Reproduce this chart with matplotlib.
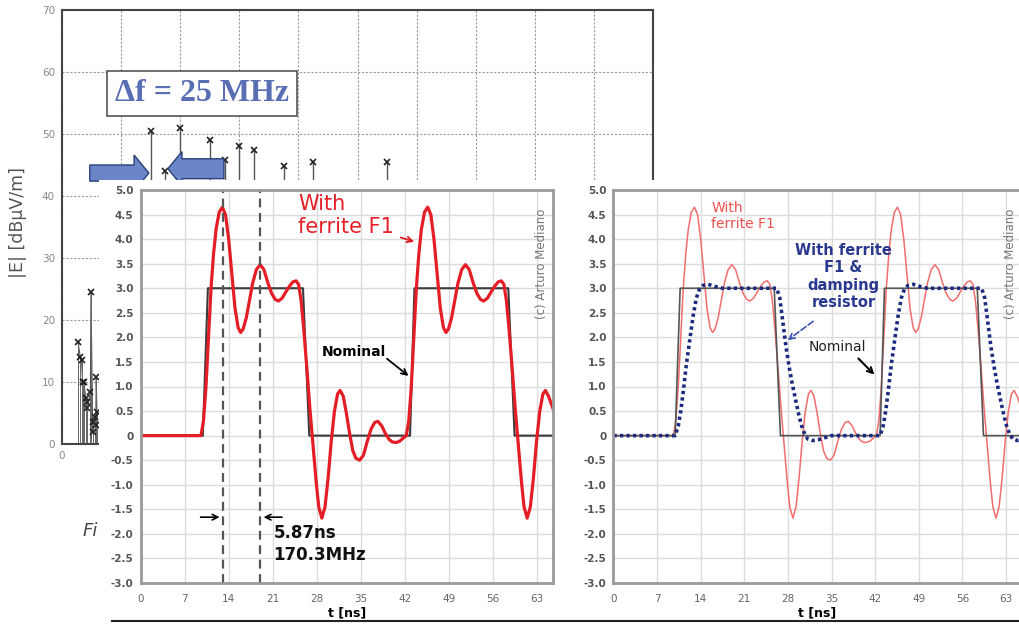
import matplotlib.pyplot as plt
from matplotlib.patches import Rectangle, FancyArrow
from matplotlib.lines import Line2D

# ---- background spectrum (partly hidden) ----
spec_f_low = [27, 31, 33, 35, 37, 40, 42, 43, 48, 49, 52, 53, 55, 57, 58, 59]
spec_v_low = [16.5, 14, 13.5, 10, 10, 7.4, 6.8, 5.8, 8.4, 24.5, 2, 3.5, 4.4, 3, 10.8, 5.2]
spec_f_high = [150, 175, 200, 250, 275, 300, 325, 375, 425, 550, 600]
spec_v_high = [50.5, 44, 51, 49, 45.8, 48, 47.4, 44.8, 45.5, 45.5, 42]
spec_xticks = [0, 100, 200, 300, 400, 500, 600, 700, 800, 900, 1000]
spec_yticks = [0, 10, 20, 30, 40, 50, 60, 70]

# ---- time domain signals ----
nom_t = [0, 9.9, 10.7, 25.8, 26.8, 42.8, 43.5, 58.4, 59.4, 65.5]
nom_v = [0, 0, 3, 3, 0, 0, 3, 3, 0, 0]

red_t = [0, 9.6, 10.0, 10.4, 10.8, 11.2, 11.6, 12.0, 12.5, 13.0, 13.5, 14.0, 14.5, 15.0, 15.5,
         15.9, 16.3, 16.8, 17.3, 17.8, 18.4, 19.0, 19.6, 20.2, 20.8, 21.4, 21.9, 22.5, 23.1, 23.7,
         24.2, 24.7, 25.1, 25.5, 25.9, 26.4, 26.9, 27.4, 27.9, 28.3, 28.8, 29.3, 29.8, 30.3, 30.8,
         31.3, 31.7, 32.2, 32.7, 33.2, 33.7, 34.2, 34.8, 35.4, 36.0, 36.6, 37.2, 37.7, 38.3, 38.9,
         39.5, 40.0, 40.6, 41.2, 41.8, 42.2, 42.6, 43.0, 43.4, 43.8, 44.2, 44.6, 45.1, 45.6, 46.1,
         46.6, 47.1, 47.6, 48.1, 48.5, 48.9, 49.4, 49.9, 50.4, 51.0, 51.6, 52.2, 52.8, 53.4, 54.0,
         54.5, 55.1, 55.7, 56.3, 56.8, 57.3, 57.7, 58.1, 58.5, 59.0, 59.5, 60.0, 60.5, 60.9, 61.4,
         61.9, 62.4, 62.9, 63.4, 63.9, 64.3, 64.8, 65.5]
red_v = [0, 0, 0.3, 1.0, 2.0, 3.0, 3.7, 4.2, 4.55, 4.65, 4.5, 4.0, 3.3, 2.6, 2.2,
         2.1, 2.17, 2.4, 2.75, 3.1, 3.38, 3.48, 3.38, 3.12, 2.9, 2.77, 2.74, 2.8, 2.93, 3.05,
         3.13, 3.15, 3.08, 2.75, 2.2, 1.4, 0.55, -0.2, -0.95, -1.45, -1.68, -1.45, -0.85, -0.1, 0.5,
         0.85, 0.92, 0.8, 0.45, 0.05, -0.3, -0.46, -0.5, -0.4, -0.12, 0.13, 0.27, 0.29, 0.2, 0.04,
         -0.08, -0.13, -0.14, -0.11, -0.04, 0.0, 0.3, 1.0, 2.0, 3.0, 3.7, 4.2, 4.55, 4.65, 4.5,
         4.0, 3.3, 2.6, 2.2, 2.1, 2.17, 2.4, 2.75, 3.1, 3.38, 3.48, 3.38, 3.12, 2.9, 2.77,
         2.74, 2.8, 2.93, 3.05, 3.13, 3.15, 3.08, 2.75, 2.2, 1.4, 0.55, -0.2, -0.95, -1.45, -1.68,
         -1.45, -0.85, -0.1, 0.5, 0.85, 0.92, 0.8, 0.55]

blue_t = [0, 9.9, 10.4, 10.8, 11.2, 11.7, 12.3, 12.8, 13.3, 13.8, 14.4, 15.2, 16.2, 17.5,
          26.2, 26.7, 27.2, 27.7, 28.2, 28.7, 29.2, 29.7, 30.2, 30.7, 31.2, 32.0, 33.0, 34.0, 35.0,
          42.8, 43.3, 43.7, 44.1, 44.6, 45.2, 45.7, 46.2, 46.7, 47.3, 48.1, 49.1, 50.4,
          59.1, 59.6, 60.1, 60.6, 61.1, 61.6, 62.1, 62.6, 63.1, 63.6, 64.1, 64.9, 65.5]
blue_v = [0, 0, 0.2, 0.5, 0.9, 1.45, 2.0, 2.45, 2.8, 2.98, 3.06, 3.08, 3.04, 3.0,
          3.0, 2.8, 2.3, 1.8, 1.4, 1.05, 0.75, 0.45, 0.2, 0.03, -0.07, -0.1, -0.08, -0.04, 0.0,
          0, 0.2, 0.5, 0.9, 1.45, 2.0, 2.45, 2.8, 2.98, 3.06, 3.08, 3.04, 3.0,
          3.0, 2.8, 2.3, 1.8, 1.4, 1.05, 0.75, 0.45, 0.2, 0.03, -0.07, -0.1, -0.09]

t_ticks = [0, 7, 14, 21, 28, 35, 42, 49, 56, 63]
v_ticks = [5.0, 4.5, 4.0, 3.5, 3.0, 2.5, 2.0, 1.5, 1.0, 0.5, 0, -0.5, -1.0, -1.5, -2.0, -2.5, -3.0]
v_labels = ["5.0", "4.5", "4.0", "3.5", "3.0", "2.5", "2.0", "1.5", "1.0", "0.5", "0",
            "-0.5", "-1.0", "-1.5", "-2.0", "-2.5", "-3.0"]
cursor_t = [13.1, 19.0]

W, H = 1020, 624


def box(x0, y0, x1, y1):
    # pixel rectangle -> figure fraction
    return [x0 / W, 1 - y1 / H, (x1 - x0) / W, (y1 - y0) / H]


fig = plt.figure(figsize=(10.2, 6.24), dpi=100)

# ---------------- background spectrum plot ----------------
ax0 = fig.add_axes(box(62, 10, 653, 444), zorder=0)
ax0.set_xlim(0, 1000)
ax0.set_ylim(0, 70)
ax0.set_xticks(spec_xticks)
ax0.set_xticklabels(["0"] + [""] * (len(spec_xticks) - 1))
ax0.set_yticks(spec_yticks)
ax0.tick_params(length=0, labelsize=7.5, labelcolor="#888", pad=5)
ax0.grid(color="#9a9a9a", lw=0.8, ls=(0, (2, 1.5)))
for s in ax0.spines.values():
    s.set_color("#444")
    s.set_linewidth(1.5)
ax0.set_ylabel("|E| [dBμV/m]", fontsize=12.5, color="#555")
ax0.yaxis.set_label_coords((27 - 62) / 591, 0.51)

ax0.vlines(spec_f_high, 0, spec_v_high, colors="#555", lw=1.0)
ax0.plot(spec_f_high, spec_v_high, "x", color="#222", ms=4.5, mew=1.2)
ax0.plot(spec_f_low, spec_v_low, "-", color="#555", lw=0.8)
ax0.vlines(spec_f_low, 0, spec_v_low, colors="#666", lw=0.7)
ax0.plot(spec_f_low, spec_v_low, "x", color="#222", ms=4.5, mew=1.2)

ax0.text(237, 56.6, "Δf = 25 MHz", ha="center", va="center", family="Liberation Serif",
         weight="bold", size=23, color="#5a6eb4",
         bbox=dict(boxstyle="square,pad=0.25", fc="white", ec="#555", lw=1.2))
ax0.add_patch(FancyArrow(47, 43.7, 100, 0, width=2.6, head_width=5.8, head_length=25,
                         length_includes_head=True, fc="#6a86c8", ec="#2a3f78", lw=1, zorder=4))
ax0.add_patch(FancyArrow(274, 44.4, -95, 0, width=3.2, head_width=5.5, head_length=24,
                         length_includes_head=True, fc="#6a86c8", ec="#2a3f78", lw=1, zorder=4))

fig.text(83 / W, 1 - 531 / H, "Fi", style="italic", size=13, color="#444", va="center")

# white sheet that hides the lower part of the background plot
fig.patches.append(Rectangle((99 / W, 0), (W - 99) / W, 444 / H, transform=fig.transFigure,
                             fc="white", ec="none", zorder=1))


def style_panel(ax):
    ax.set_xlim(0, 65.5)
    ax.set_ylim(-3, 5)
    ax.set_xticks(t_ticks)
    ax.set_xticklabels([str(t) for t in t_ticks], fontsize=7.5, color="#666")
    ax.set_yticks(v_ticks)
    ax.set_yticklabels(v_labels, fontsize=7.5, color="#555", fontweight="bold")
    ax.tick_params(axis="y", length=0, pad=5)
    ax.tick_params(axis="x", length=0, pad=8)
    ax.grid(color="#dcdcdc", lw=1)
    ax.set_axisbelow(True)
    for s in ax.spines.values():
        s.set_color("#9a9a9a")
        s.set_linewidth(2)
    ax.set_xlabel("t [ns]", fontsize=9, fontweight="bold", labelpad=2)


# ---------------- left panel ----------------
axL = fig.add_axes(box(140.5, 190, 553, 583), zorder=2)
style_panel(axL)
axL.plot(nom_t, nom_v, color="#3a3a3a", lw=1.5)
axL.plot(red_t, red_v, color="#e41e26", lw=2.3)
for ct in cursor_t:
    axL.axvline(ct, color="#555", lw=1.6, ls=(0, (4, 2.5)))
axL.annotate("", xy=(13.0, -1.66), xytext=(9.1, -1.66),
             arrowprops=dict(arrowstyle="->", color="black", lw=1.2))
axL.annotate("", xy=(19.1, -1.66), xytext=(22.9, -1.66),
             arrowprops=dict(arrowstyle="->", color="black", lw=1.2))
axL.text(21.1, -1.8, "5.87ns\n170.3MHz", ha="left", va="top", fontsize=12,
         fontweight="bold", linespacing=1.3, color="#111")
axL.text(25.0, 4.92, "With\nferrite F1", ha="left", va="top", fontsize=15,
         color="#e41e26", linespacing=1.2)
axL.annotate("", xy=(43.9, 3.93), xytext=(40.9, 4.05),
             arrowprops=dict(arrowstyle="->", color="#e41e26", lw=1.3))
axL.text(28.8, 1.71, "Nominal", ha="left", va="center", fontsize=10, fontweight="bold")
axL.annotate("", xy=(42.9, 1.18), xytext=(38.8, 1.6),
             arrowprops=dict(arrowstyle="->", color="black", lw=1.3))
axL.text(63.6, 3.5, "(c) Arturo Mediano", rotation=90, ha="center", va="center",
         fontsize=8.5, color="#777")

# ---------------- right panel ----------------
axR = fig.add_axes(box(613.5, 190, 1021.5, 583), zorder=2)
style_panel(axR)
axR.plot(red_t, red_v, color="#f26d6d", lw=1.1)
axR.plot(nom_t, nom_v, color="#555", lw=1.2)
axR.plot(blue_t, blue_v, color="#1b2a80", lw=2.6, ls=(0, (0.9, 0.9)))
axR.text(15.7, 4.78, "With\nferrite F1", ha="left", va="top", fontsize=10, color="#f0504f")
axR.text(36.9, 3.92, "With ferrite\nF1 &\ndamping\nresistor", ha="center", va="top",
         fontsize=10.5, fontweight="bold", color="#2a3990", linespacing=1.2)
axR.annotate("", xy=(27.6, 1.91), xytext=(32.4, 2.36),
             arrowprops=dict(arrowstyle="->", color="#3a4fb0", lw=1.2, ls="--"))
axR.text(31.3, 1.81, "Nominal", ha="left", va="center", fontsize=10, color="#222")
axR.annotate("", xy=(42.2, 1.2), xytext=(39.0, 1.61),
             arrowprops=dict(arrowstyle="->", color="black", lw=1.5))
axR.text(63.7, 3.5, "(c) Arturo Mediano", rotation=90, ha="center", va="center",
         fontsize=8.5, color="#777")

# page edge line at the bottom
fig.add_artist(Line2D([112 / W, 1], [1 - 621 / H, 1 - 621 / H], color="#222", lw=1.5, zorder=5))

plt.savefig("out.png", dpi=100)
